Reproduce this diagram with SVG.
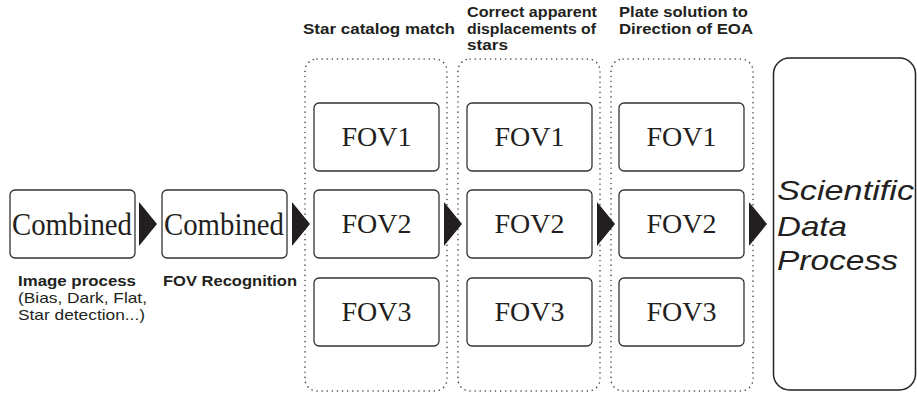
<svg xmlns="http://www.w3.org/2000/svg" width="917" height="394" viewBox="0 0 917 394">
<style>
.box{fill:#fff;stroke:#333;stroke-width:1.3}
.grp{fill:none;stroke:#444;stroke-width:1.5;stroke-dasharray:0.1 5;stroke-linecap:round}
.final{fill:#fff;stroke:#222;stroke-width:1.5}
.serif{font-family:"Liberation Serif","Times New Roman",serif;fill:#231f20}
.lbl{font-family:"Liberation Sans",Arial,sans-serif;font-size:15px;fill:#231f20}
.b{font-weight:bold}
.sci{font-family:"Liberation Sans",Arial,sans-serif;font-style:italic;font-size:28px;fill:#231f20}
.arr{fill:#231f20}
</style>
<rect width="917" height="394" fill="#fff"/>
<g id="groups">
<rect class="grp" x="305" y="59" width="142" height="332" rx="12"/>
<rect class="grp" x="458" y="59" width="142" height="332" rx="12"/>
<rect class="grp" x="611" y="59" width="142" height="332" rx="12"/>
</g>
<g id="connectors">
<polygon class="arr" points="139,202 157,224 139,246"/>
<polygon class="arr" points="292,202 310,224 292,246"/>
<polygon class="arr" points="444,202 462,224 444,246"/>
<polygon class="arr" points="597,202 615,224 597,246"/>
<polygon class="arr" points="749,202 767,224 749,246"/>
</g>
<g id="combined1">
<rect class="box" x="10" y="190" width="125" height="68" rx="5"/>
<text class="serif" x="12" y="235" font-size="32" textLength="120" lengthAdjust="spacingAndGlyphs">Combined</text>
</g>
<g id="combined2">
<rect class="box" x="162" y="190" width="125" height="68" rx="5"/>
<text class="serif" x="164" y="235" font-size="32" textLength="120" lengthAdjust="spacingAndGlyphs">Combined</text>
</g>
<g id="c1fov1"><rect class="box" x="314" y="103" width="125" height="68" rx="5"/><text class="serif" x="376.5" y="146" font-size="28" text-anchor="middle">FOV1</text></g>
<g id="c1fov2"><rect class="box" x="314" y="190" width="125" height="68" rx="5"/><text class="serif" x="376.5" y="233" font-size="28" text-anchor="middle">FOV2</text></g>
<g id="c1fov3"><rect class="box" x="314" y="278" width="125" height="68" rx="5"/><text class="serif" x="376.5" y="321" font-size="28" text-anchor="middle">FOV3</text></g>
<g id="c2fov1"><rect class="box" x="467" y="103" width="125" height="68" rx="5"/><text class="serif" x="529.5" y="146" font-size="28" text-anchor="middle">FOV1</text></g>
<g id="c2fov2"><rect class="box" x="467" y="190" width="125" height="68" rx="5"/><text class="serif" x="529.5" y="233" font-size="28" text-anchor="middle">FOV2</text></g>
<g id="c2fov3"><rect class="box" x="467" y="278" width="125" height="68" rx="5"/><text class="serif" x="529.5" y="321" font-size="28" text-anchor="middle">FOV3</text></g>
<g id="c3fov1"><rect class="box" x="619" y="103" width="125" height="68" rx="5"/><text class="serif" x="681.5" y="146" font-size="28" text-anchor="middle">FOV1</text></g>
<g id="c3fov2"><rect class="box" x="619" y="190" width="125" height="68" rx="5"/><text class="serif" x="681.5" y="233" font-size="28" text-anchor="middle">FOV2</text></g>
<g id="c3fov3"><rect class="box" x="619" y="278" width="125" height="68" rx="5"/><text class="serif" x="681.5" y="321" font-size="28" text-anchor="middle">FOV3</text></g>
<g id="scientific">
<rect class="final" x="773.5" y="58" width="142" height="332" rx="16"/>
<text class="sci" x="777" y="200" textLength="137" lengthAdjust="spacingAndGlyphs">Scientific</text>
<text class="sci" x="777" y="236" textLength="70" lengthAdjust="spacingAndGlyphs">Data</text>
<text class="sci" x="777" y="270" textLength="121" lengthAdjust="spacingAndGlyphs">Process</text>
</g>
<g id="labels">
<text class="lbl b" x="18" y="286" textLength="118" lengthAdjust="spacingAndGlyphs">Image process</text>
<text class="lbl" x="18" y="303" textLength="129" lengthAdjust="spacingAndGlyphs">(Bias, Dark, Flat,</text>
<text class="lbl" x="18" y="320" textLength="127" lengthAdjust="spacingAndGlyphs">Star detection...)</text>
<text class="lbl b" x="163" y="286" textLength="134" lengthAdjust="spacingAndGlyphs">FOV Recognition</text>
<text class="lbl b" x="303" y="34" textLength="152" lengthAdjust="spacingAndGlyphs">Star catalog match</text>
<text class="lbl b" x="467" y="17" textLength="130" lengthAdjust="spacingAndGlyphs">Correct apparent</text>
<text class="lbl b" x="467" y="34" textLength="129" lengthAdjust="spacingAndGlyphs">displacements of</text>
<text class="lbl b" x="467" y="50" textLength="41" lengthAdjust="spacingAndGlyphs">stars</text>
<text class="lbl b" x="619" y="17" textLength="129" lengthAdjust="spacingAndGlyphs">Plate solution to</text>
<text class="lbl b" x="619" y="34" textLength="134" lengthAdjust="spacingAndGlyphs">Direction of EOA</text>
</g>
</svg>
